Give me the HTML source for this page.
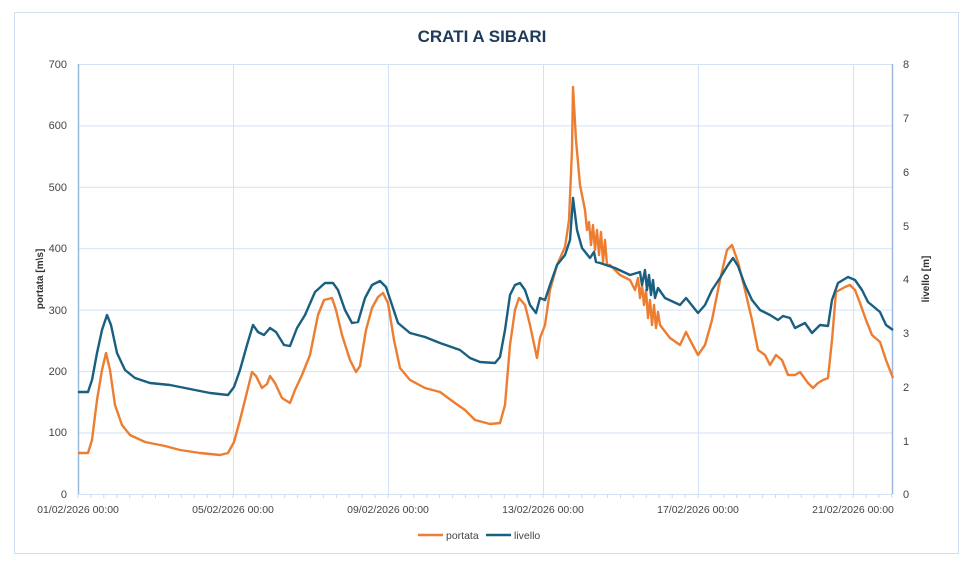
<!DOCTYPE html>
<html><head><meta charset="utf-8"><style>
html,body{margin:0;padding:0;background:#fff;}
svg{display:block;font-family:"Liberation Sans",sans-serif;}
</style></head><body>
<svg width="973" height="561" viewBox="0 0 973 561">
<rect x="14.5" y="12.5" width="944" height="541" fill="#fff" stroke="#cfe0f3" stroke-width="1"/>
<text x="482" y="42" text-anchor="middle" font-size="17" font-weight="bold" fill="#1f3a5a">CRATI A SIBARI</text>
<g stroke="#d3e2f4" stroke-width="1">
<line x1="78" y1="64.5" x2="893" y2="64.5"/>
<line x1="78" y1="125.9" x2="893" y2="125.9"/>
<line x1="78" y1="187.3" x2="893" y2="187.3"/>
<line x1="78" y1="248.7" x2="893" y2="248.7"/>
<line x1="78" y1="310.1" x2="893" y2="310.1"/>
<line x1="78" y1="371.6" x2="893" y2="371.6"/>
<line x1="78" y1="433" x2="893" y2="433"/>
<line x1="233.5" y1="64" x2="233.5" y2="494"/>
<line x1="388.5" y1="64" x2="388.5" y2="494"/>
<line x1="543.5" y1="64" x2="543.5" y2="494"/>
<line x1="698.5" y1="64" x2="698.5" y2="494"/>
<line x1="853.5" y1="64" x2="853.5" y2="494"/>
<line x1="78" y1="494.5" x2="893" y2="494.5"/>
</g>
<line x1="78.5" y1="64" x2="78.5" y2="494" stroke="#9bb8de" stroke-width="1.5"/>
<line x1="892.5" y1="64" x2="892.5" y2="494" stroke="#9bb8de" stroke-width="1.5"/>
<g id="ticks" stroke="#c9d9ee" stroke-width="1"></g>
<g font-size="11" fill="#444" text-anchor="end">
<text x="67" y="68">700</text><text x="67" y="129">600</text><text x="67" y="191">500</text>
<text x="67" y="252">400</text><text x="67" y="314">300</text><text x="67" y="375">200</text>
<text x="67" y="436">100</text><text x="67" y="498">0</text>
</g>
<g font-size="11" fill="#444">
<text x="903" y="68">8</text><text x="903" y="122">7</text><text x="903" y="176">6</text>
<text x="903" y="230">5</text><text x="903" y="283">4</text><text x="903" y="337">3</text>
<text x="903" y="391">2</text><text x="903" y="445">1</text><text x="903" y="498">0</text>
</g>
<g font-size="10.5" fill="#444" text-anchor="middle">
<text x="78" y="513">01/02/2026 00:00</text><text x="233" y="513">05/02/2026 00:00</text>
<text x="388" y="513">09/02/2026 00:00</text><text x="543" y="513">13/02/2026 00:00</text>
<text x="698" y="513">17/02/2026 00:00</text><text x="853" y="513">21/02/2026 00:00</text>
</g>
<text transform="translate(43,279) rotate(-90)" text-anchor="middle" font-size="10" font-weight="bold" fill="#333">portata [m\s]</text>
<text transform="translate(929,279) rotate(-90)" text-anchor="middle" font-size="10" font-weight="bold" fill="#333">livello [m]</text>
<polyline fill="none" stroke="#ed7d31" stroke-width="2.4" stroke-linejoin="round" points="78,453 88,453 92,440 97,400 102,370 106,353 110,370 115,405 122,425 130,435 145,442 165,446 180,450 200,453 220,455 228,453 234,442 240,420 247,392 252,372 256,376 262,388 267,384 270,376 275,383 282,398 290,403 295,390 302,375 310,355 318,315 324,300 332,298 336,310 342,335 350,360 356,372 360,366 366,330 372,308 378,297 383,293 388,303 394,340 400,368 410,380 425,388 440,392 455,403 465,410 475,420 490,424 500,423 505,405 510,345 515,310 519,298 525,305 530,325 537,358 540,338 545,325 550,290 557,265 565,247 569,220 572,150 573,87 576,140 580,185 585,210 587,230 589,222 591,245 593,225 595,250 597,230 599,255 601,232 603,262 605,240 607,265 610,265 620,275 630,280 635,290 638,278 640,298 642,285 644,305 646,290 648,318 650,300 652,325 654,305 656,328 658,312 660,325 670,338 680,345 686,332 690,340 698,355 705,345 712,320 720,280 727,250 732,245 738,262 745,290 752,320 758,350 765,355 770,365 776,355 782,360 788,375 795,375 800,372 808,383 813,388 818,383 823,380 828,378 832,340 836,292 845,287 850,285 855,290 860,303 866,320 872,335 880,342 886,360 893,378"/>
<polyline fill="none" stroke="#1a5f7f" stroke-width="2.4" stroke-linejoin="round" points="78,392 88,392 92,380 97,353 102,330 107,315 111,325 117,353 125,370 135,378 150,383 170,385 190,389 210,393 228,395 234,387 240,370 247,345 253,325 258,332 264,335 270,328 276,332 284,345 290,346 297,328 305,315 315,292 325,283 333,283 338,290 345,310 352,323 358,322 365,298 372,285 380,281 386,287 392,305 398,323 410,333 425,337 440,343 460,350 470,358 480,362 495,363 500,357 505,330 510,295 515,285 520,283 525,290 530,305 536,313 540,298 545,300 550,285 557,265 565,255 570,240 573,198 577,230 582,248 590,258 594,252 596,262 600,263 615,268 630,275 640,272 642,285 645,270 647,290 649,275 651,295 653,280 655,298 658,288 665,298 680,305 686,298 690,303 698,313 705,305 712,290 720,278 728,265 733,258 738,266 745,285 752,300 760,310 770,315 778,320 783,316 790,318 795,328 805,323 812,333 820,325 828,326 832,300 838,283 848,277 855,280 862,290 868,302 880,312 886,325 893,330"/>
<line x1="418" y1="535" x2="443" y2="535" stroke="#ed7d31" stroke-width="2.5"/>
<text x="446" y="539" font-size="10.5" fill="#444">portata</text>
<line x1="486" y1="535" x2="511" y2="535" stroke="#1a5f7f" stroke-width="2.5"/>
<text x="514" y="539" font-size="10.5" fill="#444">livello</text>
</svg>
<script>
var g=document.getElementById('ticks'),s='';
for(var i=0;i<=63;i++){var x=78+i*155/12;if(x>893)break;s+='<line x1="'+x+'" y1="494" x2="'+x+'" y2="498"/>';}
g.innerHTML=s;
</script>
</body></html>
